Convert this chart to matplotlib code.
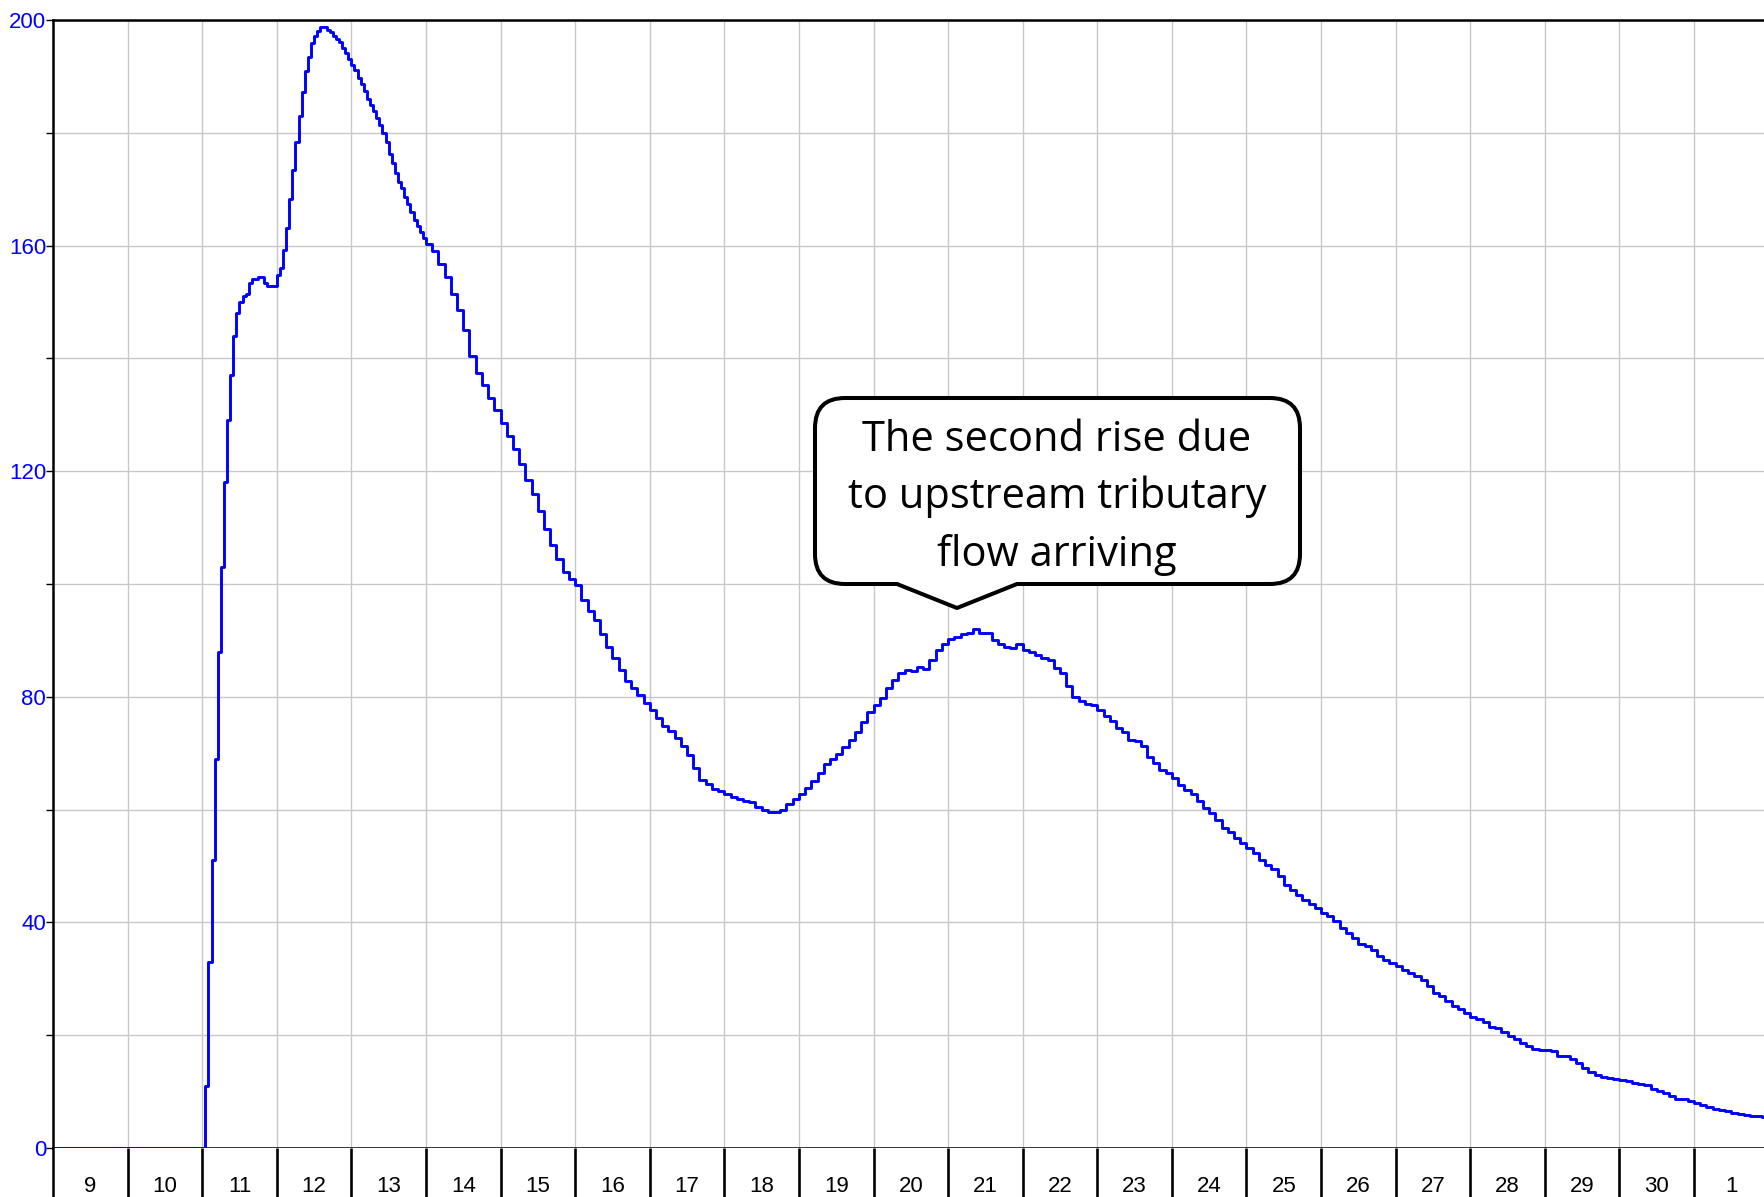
import numpy as np
import matplotlib
matplotlib.use("Agg")
import matplotlib.pyplot as plt
from matplotlib.path import Path
from matplotlib.patches import PathPatch
from matplotlib.transforms import Affine2D

# flow, hours counted from 00:00 on day 9
rise_start_hour = 48
rise_vals = [0, 11, 33, 51, 69, 88, 103, 118, 129, 137, 144, 148, 150, 151, 151.5, 153.3,
             154, 154, 154.4, 154.4, 153.3, 152.8, 152.8, 152.8, 154.8, 156.1, 159.3, 163.1,
             168.3, 173.4, 178.4, 182.9, 187.3, 191, 193.5, 195.9, 197.2, 198.1, 198.8, 198.8,
             198.3, 197.8, 197.2, 196.6, 196.1, 195, 194.2, 193.1, 192, 191.1, 189.8, 188.7,
             187.5, 186, 184.9, 183.9, 182.6, 181.4, 180, 178.4, 176.2, 174.7, 172.8, 171.3,
             170.2, 168.6, 167.4, 166, 164.5, 163.4, 162.4, 161.3]

# from hour 120 on, one value every 2 hours
tail_start_hour = 120
tail_vals = [160.3, 159, 156.7, 154.4, 151.4, 148.5, 145, 140.5, 137.5, 135.3, 133, 130.8,
             128.6, 126.2, 124, 121.3, 118.5, 115.9, 113, 109.8, 107, 104.5, 102.2, 100.9,
             99.8, 97.1, 95.3, 93.6, 91.2, 88.8, 86.8, 84.7, 82.8, 81.5, 80.3, 78.9,
             77.6, 76.2, 74.9, 74, 72.7, 71.2, 69.7, 67.3,
             65.3, 64.5, 63.7, 63.3, 62.8, 62.2, 61.8, 61.6, 61.3, 60.5, 60, 59.6,
             59.5, 60, 61, 61.9, 62.8, 63.9, 65, 66.5, 68.1, 69, 69.9, 71.1,
             72.3, 73.8, 75.5, 77.3, 78.5, 79.7, 81.5, 83, 84.3, 84.7, 84.6, 85.2,
             85, 86.5, 88.3, 89.4, 90.3, 90.6, 91.2, 91.3, 92, 91.3, 91.3, 90.1, 89.4, 88.9,
             88.7, 89.3, 88.3, 88, 87.5, 86.9, 86.6, 85.1, 84.3, 81.9, 80, 79.2,
             78.8, 78.5, 77.6, 76.6, 75.7, 74.5, 73.7, 72.4, 72.2, 71.2, 69.3, 68.3,
             67.1, 66.5, 65.6, 64.4, 63.4, 62.7, 61.5, 60.3, 59.4, 58.2, 56.7, 56,
             55, 54, 53.2, 52.3, 51.1, 50.2, 49.5, 48.2, 46.7, 45.7, 44.9,
             44, 43.2, 42.5, 41.7, 41.1, 40.2, 39, 38.1, 37.2, 36.2, 35.9, 35.1,
             34.1, 33.3, 32.8, 32.2, 31.6, 31.1, 30.5, 29.8, 28.8, 27.5, 26.9, 26,
             25.1, 24.6, 24, 23.2, 22.8, 22.4, 21.5, 21.2, 20.5, 19.8, 19.3,
             18.6, 18.0, 17.5, 17.4, 17.3, 17.2, 16.4, 16.3, 15.7, 15, 14.2, 13.4,
             13, 12.6, 12.4, 12.2, 12.1, 11.8, 11.5, 11.4, 11.1, 10.5, 10.1, 9.8,
             9.2, 8.7, 8.6, 8.3, 7.9, 7.6, 7.2, 7, 6.7, 6.5, 6.2, 6, 5.9, 5.7, 5.6, 5.5]

day_labels = [str(d) for d in range(9, 31)] + ["1"]
note_lines = ["The second rise due", "to upstream tributary", "flow arriving"]

t = np.concatenate([[0], rise_start_hour + np.arange(len(rise_vals)),
                    tail_start_hour + 2 * np.arange(len(tail_vals))])
q = np.concatenate([[0], rise_vals, tail_vals])
# carry the last step on to the right edge
t = np.append(t, t[-1] + 2)
q = np.append(q, q[-1])

W, H = 1764, 1197
fig = plt.figure(figsize=(W / 100, H / 100), dpi=100)


def px_box(x0, y0, x1, y1):
    # pixel box (top left origin) -> figure fraction
    return [x0 / W, 1 - y1 / H, (x1 - x0) / W, (y1 - y0) / H]


x_max = (W - 53) / 3.108
day_edges = np.arange(24, x_max, 24)

ax = fig.add_axes(px_box(53, 20, W, 1148))
ax.plot(t, q, drawstyle="steps-post", color="#0000ff", lw=2.1, zorder=3)
ax.set_xlim(0, x_max)
ax.set_ylim(0, 200)
ax.set_xticks(day_edges)
ax.set_yticks(np.arange(0, 201, 40))
ax.set_yticks(np.arange(20, 200, 40), minor=True)
ax.tick_params(axis="x", length=0, labelbottom=False)
ax.tick_params(axis="y", which="both", direction="out", length=5, width=1,
               color="black", labelcolor="#0000ff", labelsize=16, pad=0)
for lab in ax.get_yticklabels():
    lab.set_family("Liberation Sans")
ax.grid(True, which="both", color="#c8c8c8", lw=1.0)
ax.set_axisbelow(True)
ax.spines["right"].set_visible(False)
for s in ["top", "left", "bottom"]:
    ax.spines[s].set_linewidth(1.8)
    ax.spines[s].set_color("black")

# day strip below the plot
band = fig.add_axes(px_box(53, 1148, W, 1222))
band.set_xlim(0, x_max)
band.set_ylim(0, 1)
band.vlines(day_edges, 0, 1, color="black", lw=1.9)
for i, lab in enumerate(day_labels):
    band.text(12 + 24 * i, 0.405, lab, ha="center", va="baseline",
              fontsize=16, family="Liberation Sans")
band.set_xticks([])
band.set_yticks([])
for s in ["top", "right", "bottom"]:
    band.spines[s].set_visible(False)
band.spines["left"].set_linewidth(1.8)

# callout box with pointer, drawn in image pixels
px = Affine2D().scale(1 / W, -1 / H).translate(0, 1) + fig.transFigure
L, R, T, B, r = 815, 1300, 398, 584, 30
verts = [(L + r, T), (R - r, T), (R, T), (R, T + r), (R, B - r), (R, B), (R - r, B),
         (1017, B), (957, 608), (897, B), (L + r, B), (L, B), (L, B - r),
         (L, T + r), (L, T), (L + r, T), (L + r, T)]
codes = [Path.MOVETO, Path.LINETO, Path.CURVE3, Path.CURVE3, Path.LINETO, Path.CURVE3,
         Path.CURVE3, Path.LINETO, Path.LINETO, Path.LINETO, Path.LINETO, Path.CURVE3,
         Path.CURVE3, Path.LINETO, Path.CURVE3, Path.CURVE3, Path.CLOSEPOLY]
box = PathPatch(Path(verts, codes), transform=px, facecolor="white", edgecolor="black",
                lw=2.9, joinstyle="round", zorder=5)
fig.add_artist(box)
for line, base in zip(note_lines, [451, 508.5, 566]):
    fig.text(1057 / W, 1 - base / H, line, ha="center", va="baseline",
             fontsize=30, family="Open Sans", color="black", zorder=6)

fig.savefig("out.png", dpi=100)
